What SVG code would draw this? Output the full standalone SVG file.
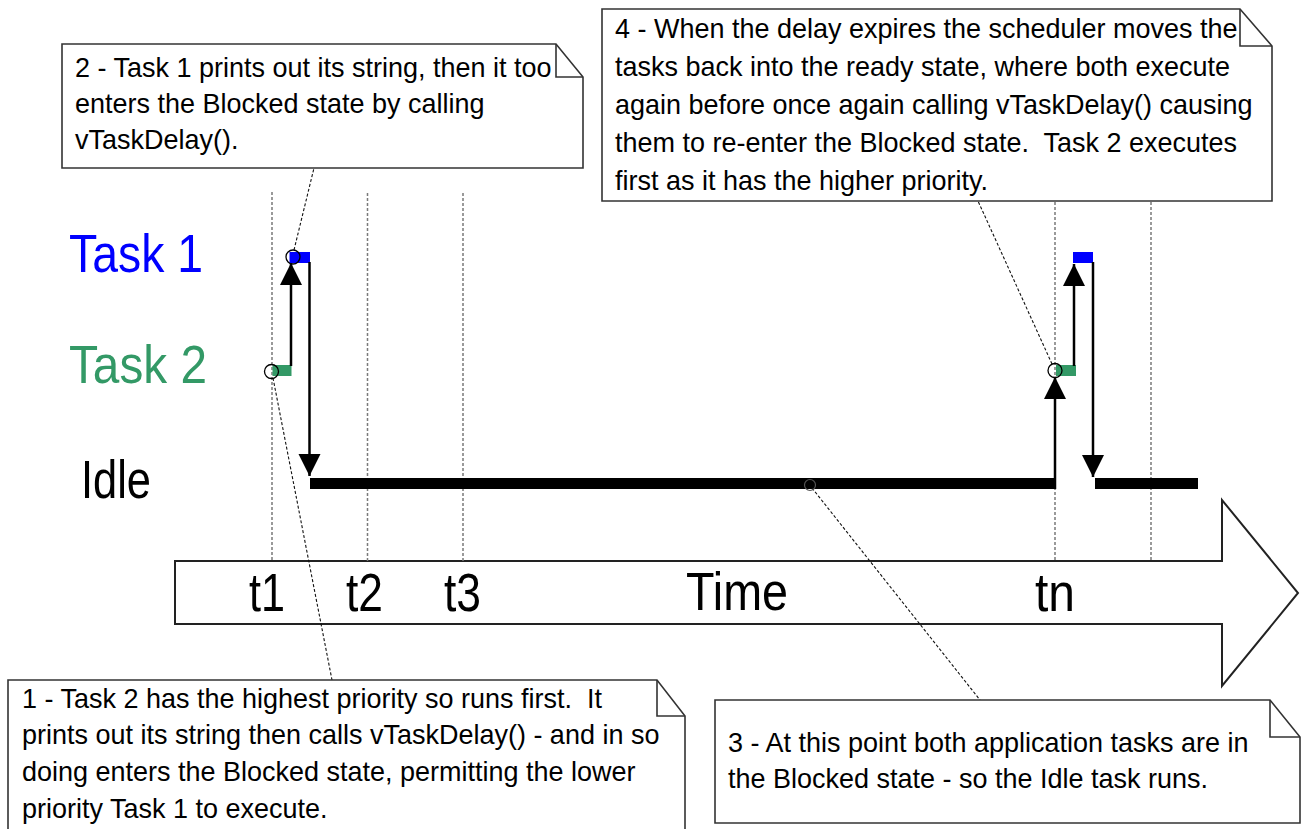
<svg xmlns="http://www.w3.org/2000/svg" width="1301" height="829" viewBox="0 0 1301 829">
<style>
.note{fill:#fff;stroke:#333;stroke-width:1.6}
.fold{fill:none;stroke:#333;stroke-width:1.6}
.nt{font-family:"Liberation Sans",Arial,sans-serif;font-size:28.5px;fill:#000}
.big{font-family:"Liberation Sans",Arial,sans-serif;font-size:54px}
.grid{stroke:#7a7a7a;stroke-width:1.5;stroke-dasharray:3,2;fill:none}
.lead{stroke:#111;stroke-width:1.1;stroke-dasharray:3,2;fill:none}
.arr{stroke:#000;stroke-width:2.5;fill:none}
.ring{fill:none;stroke:#000;stroke-width:1.3}
</style>
<defs>
<marker id="ah" markerUnits="userSpaceOnUse" markerWidth="24" markerHeight="28" viewBox="0 0 24 28" refX="22" refY="12" orient="auto">
<path d="M0,1 L22,12 L0,23 Z" fill="#000"/>
</marker>
</defs>

<g id="time-axis">
<path d="M175,561 H1222 V500 L1298,593 L1222,686 V624 H175 Z" fill="#fff" stroke="#222" stroke-width="2"/>
<text class="big" x="249" y="611" textLength="36" lengthAdjust="spacingAndGlyphs">t1</text>
<text class="big" x="346" y="611" textLength="37" lengthAdjust="spacingAndGlyphs">t2</text>
<text class="big" x="444" y="611" textLength="37" lengthAdjust="spacingAndGlyphs">t3</text>
<text class="big" x="686" y="610" textLength="102" lengthAdjust="spacingAndGlyphs">Time</text>
<text class="big" x="1035" y="611" textLength="40" lengthAdjust="spacingAndGlyphs">tn</text>
</g>

<g id="gridlines">
<line class="grid" x1="272" y1="192" x2="272" y2="561"/>
<line class="grid" x1="367.5" y1="193" x2="367.5" y2="561"/>
<line class="grid" x1="463" y1="193" x2="463" y2="561"/>
<line class="grid" x1="1055" y1="202" x2="1055" y2="561"/>
<line class="grid" x1="1151" y1="202" x2="1151" y2="561"/>
</g>

<g id="labels">
<text class="big" x="69" y="272" fill="#0000ff" textLength="134" lengthAdjust="spacingAndGlyphs">Task 1</text>
<text class="big" x="69" y="383" fill="#339966" textLength="138" lengthAdjust="spacingAndGlyphs">Task 2</text>
<text class="big" x="81" y="498" fill="#000" textLength="70" lengthAdjust="spacingAndGlyphs">Idle</text>
</g>

<g id="execution">
<rect x="272.5" y="365" width="19" height="11" fill="#339966"/>
<rect x="289.5" y="252" width="20.5" height="11" fill="#0000ff"/>
<rect x="310" y="478" width="745" height="11" fill="#000"/>
<rect x="1056" y="365" width="20" height="11" fill="#339966"/>
<rect x="1073" y="252" width="20" height="11" fill="#0000ff"/>
<rect x="1095" y="478" width="103" height="11" fill="#000"/>
</g>

<g id="connectors">
<line class="arr" x1="291" y1="366" x2="291" y2="263" marker-end="url(#ah)"/>
<line class="arr" x1="309.5" y1="262" x2="309.5" y2="476" marker-end="url(#ah)"/>
<line class="arr" x1="1055" y1="489" x2="1055" y2="377" marker-end="url(#ah)"/>
<line class="arr" x1="1074" y1="366" x2="1074" y2="264" marker-end="url(#ah)"/>
<line class="arr" x1="1093" y1="262" x2="1093" y2="477" marker-end="url(#ah)"/>
<line class="lead" x1="294" y1="250" x2="314" y2="168"/>
<line class="lead" x1="273" y1="378" x2="332" y2="680"/>
<line class="lead" x1="1052" y1="364" x2="978" y2="201"/>
<line class="lead" x1="812" y1="488" x2="980" y2="700"/>
<circle class="ring" cx="293" cy="257" r="7"/>
<circle class="ring" cx="271.5" cy="371.5" r="7"/>
<circle class="ring" cx="1055" cy="370.5" r="7"/>
<circle cx="810" cy="485" r="5.5" fill="none" stroke="#555" stroke-width="1.2"/>
</g>

<g id="note2">
<path class="note" d="M62,44 H556 L583,77 V168 H62 Z"/>
<path class="fold" d="M556,44 V77 H583"/>
<g transform="translate(75,0) scale(0.947,1)">
<text class="nt" x="0" y="77">2 - Task 1 prints out its string, then it too</text>
<text class="nt" x="0" y="113">enters the Blocked state by calling</text>
<text class="nt" x="0" y="149">vTaskDelay().</text>
</g>
</g>

<g id="note4">
<path class="note" d="M602,9 H1240 L1272,46 V201 H602 Z"/>
<path class="fold" d="M1240,9 V46 H1272"/>
<g transform="translate(615,0) scale(0.947,1)">
<text class="nt" x="0" y="38">4 - When the delay expires the scheduler moves the</text>
<text class="nt" x="0" y="76">tasks back into the ready state, where both execute</text>
<text class="nt" x="0" y="114">again before once again calling vTaskDelay() causing</text>
<text class="nt" x="0" y="152" xml:space="preserve">them to re-enter the Blocked state.  Task 2 executes</text>
<text class="nt" x="0" y="190">first as it has the higher priority.</text>
</g>
</g>

<g id="note1">
<path class="note" d="M8,680 H657 L685,716 V835 H8 Z"/>
<path class="fold" d="M657,680 V716 H685"/>
<g transform="translate(22,0) scale(0.947,1)">
<text class="nt" x="0" y="708" xml:space="preserve">1 - Task 2 has the highest priority so runs first.  It</text>
<text class="nt" x="0" y="744">prints out its string then calls vTaskDelay() - and in so</text>
<text class="nt" x="0" y="781">doing enters the Blocked state, permitting the lower</text>
<text class="nt" x="0" y="818">priority Task 1 to execute.</text>
</g>
</g>

<g id="note3">
<path class="note" d="M715,700 H1270 L1300,737 V823 H715 Z"/>
<path class="fold" d="M1270,700 V737 H1300"/>
<g transform="translate(728,0) scale(0.947,1)">
<text class="nt" x="0" y="752">3 - At this point both application tasks are in</text>
<text class="nt" x="0" y="788">the Blocked state - so the Idle task runs.</text>
</g>
</g>
</svg>
